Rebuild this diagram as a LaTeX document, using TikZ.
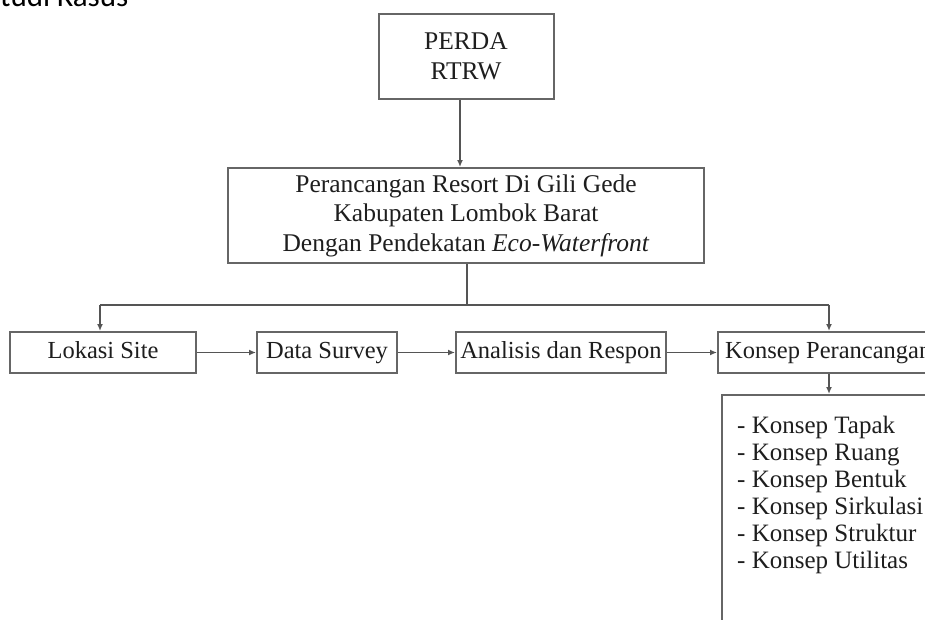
\documentclass[tikz,border=0pt]{standalone}
\usepackage{fontspec}
\setmainfont{Liberation Serif}
\newfontfamily\headfont{Carlito}
\usetikzlibrary{arrows.meta}
\definecolor{linegray}{HTML}{555555}
\definecolor{boxgray}{HTML}{666666}
\definecolor{inkgray}{HTML}{1E1E1E}
\tikzset{
  box/.style={draw=boxgray, line width=2pt, inner sep=0pt, text=inkgray,
    font=\fontsize{25.5}{29.5}\selectfont},
  onebox/.style={box, font=\fontsize{24.5}{29.5}\selectfont,
    text height=17pt, text depth=6pt, minimum height=41pt},
  conn/.style={draw=linegray, line width=1.6pt, -{Latex[length=7pt,width=6pt]}},
  plainconn/.style={draw=linegray, line width=1.6pt},
  labeltext/.style={inner sep=0pt, text=inkgray, font=\fontsize{24.5}{29.5}\selectfont},
  listtext/.style={anchor=base west, inner sep=0pt, text=inkgray,
    font=\fontsize{25}{27}\selectfont}
}
\begin{document}
\begin{tikzpicture}[x=1pt,y=-1pt]
\useasboundingbox (0,0) rectangle (925,619);
\clip (0,0) rectangle (925,619);
\fill[white] (0,0) rectangle (925,619);
% clipped heading
\node[anchor=base west, inner sep=0pt, font=\headfont\fontsize{31}{31}\selectfont, text=black] (head) at (0,6) {tudi Kasus};
% boxes
\node[box, minimum width=175pt, minimum height=85pt, align=center] (perda) at (466,56.5) {PERDA\\RTRW};
\node[box, minimum width=476pt, minimum height=95pt, align=center] (main) at (466,215.5)
  {Perancangan Resort Di Gili Gede\\Kabupaten Lombok Barat\\Dengan Pendekatan \textit{Eco-Waterfront}};
\node[onebox, minimum width=186pt] (lokasi) at (103,352.5) {Lokasi Site};
\node[onebox, minimum width=140pt] (data) at (327,352.5) {Data Survey};
\node[onebox, minimum width=210pt] (analisis) at (561,352.5) {Analisis dan Respon};
\node[onebox, anchor=west, minimum width=240pt] (konsep) at (717,352.5) {};
\node[labeltext, anchor=west, text height=17pt, text depth=6pt] (konseptext) at (725,352.5) {Konsep Perancangan};
\node[box, anchor=north west, minimum width=260pt, minimum height=260pt] (listbox) at (721,394) {};
% list items
\node[listtext] (l1) at (737,433) {- Konsep Tapak};
\node[listtext] (l2) at (737,460) {- Konsep Ruang};
\node[listtext] (l3) at (737,487) {- Konsep Bentuk};
\node[listtext] (l4) at (737,514) {- Konsep Sirkulasi};
\node[listtext] (l5) at (737,541) {- Konsep Struktur};
\node[listtext] (l6) at (737,568) {- Konsep Utilitas};
% connectors
\coordinate (split) at (467,305);
\coordinate (splitL) at (100,305);
\coordinate (splitR) at (829,305);
\draw[conn] (perda.south -| 460,0) -- (main.north -| 460,0);
\draw[plainconn] (main.south -| split) -- (split);
\draw[plainconn] (splitL) -- (splitR);
\draw[conn] (splitL) -- (lokasi.north -| splitL);
\draw[conn] (splitR) -- (konsep.north -| splitR);
\draw[conn] (lokasi) -- (data);
\draw[conn] (data) -- (analisis);
\draw[conn] (analisis) -- (konsep.west);
\draw[conn] (konsep.south -| splitR) -- (listbox.north -| splitR);
\end{tikzpicture}
\end{document}
